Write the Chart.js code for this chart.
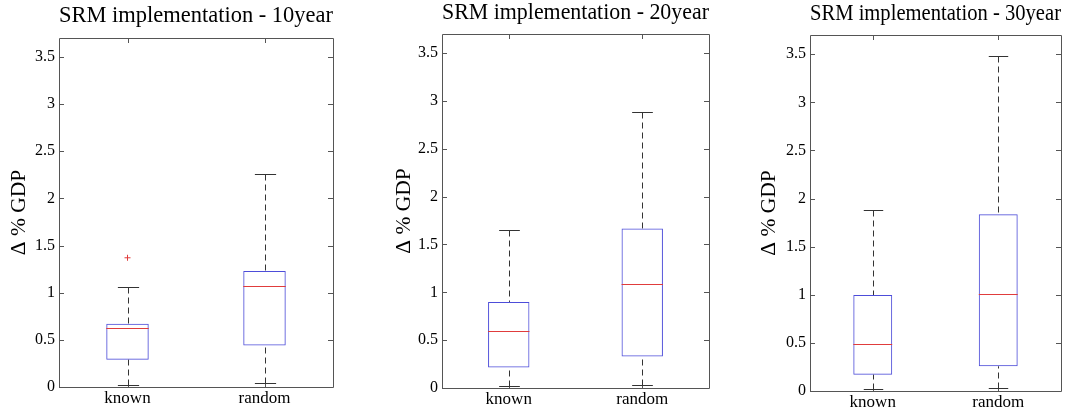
<!DOCTYPE html>
<html>
<head>
<meta charset="utf-8">
<script src="https://cdn.jsdelivr.net/npm/chart.js@4.4.0/dist/chart.umd.min.js"></script>
<style>
  html, body { margin: 0; padding: 0; background: #fff; }
  #wrap { position: relative; width: 1080px; height: 412px; overflow: hidden; }
  .panel { position: absolute; top: 0; width: 360px; height: 412px; }
</style>
</head>
<body>
<div id="wrap">
  <div class="panel" style="left:0px"><canvas id="c0" width="360" height="412"></canvas></div>
  <div class="panel" style="left:360px"><canvas id="c1" width="360" height="412"></canvas></div>
  <div class="panel" style="left:720px"><canvas id="c2" width="360" height="412"></canvas></div>
</div>
<script>
// data (one row per panel: 10, 20, 30 year)
const categories = ['known', 'random'];
const panelTitles = ['SRM implementation - 10year', 'SRM implementation - 20year', 'SRM implementation - 30year'];
const whiskerLow  = [[0.025, 0.04], [0.017, 0.03], [0.017, 0.028]];
const boxQ1       = [[0.29, 0.44], [0.215, 0.33], [0.17, 0.257]];
const medians     = [[0.63, 1.075], [0.595, 1.087], [0.486, 1.007]];
const boxQ3       = [[0.67, 1.23], [0.90, 1.668], [0.997, 1.836]];
const whiskerHigh = [[1.065, 2.26], [1.654, 2.88], [1.878, 3.48]];
const outliers    = [[1.37, null], [null, null], [null, null]];
const yTickValues = [0, 0.5, 1, 1.5, 2, 2.5, 3, 3.5];
const yTickLabels = ['0', '0.5', '1', '1.5', '2', '2.5', '3', '3.5'];

const serif = "'Liberation Serif', 'Times New Roman', serif";
const boxColor = '#4d4dd9';
const medianColor = '#e03c3c';
const whiskerColor = '#333333';
const frameColor = '#555555';

// per-panel placement
const layouts = [
  { axisW: 59, right: 27, titleTop: 2.5, titleBottom: 8.5, xH: 25, yTitlePad: 6 },
  { axisW: 82, right: 11, titleTop: 0,   titleBottom: 7,   xH: 24, yTitlePad: 31 },
  { axisW: 90, right: 19, titleTop: 0.5, titleBottom: 7.5, xH: 21, yTitlePad: 36 },
];

// matlab style box with inward ticks
const frame = {
  id: 'frame',
  afterDatasetsDraw(chart) {
    const { ctx, chartArea: a, scales: { x, y } } = chart;
    ctx.save();
    ctx.strokeStyle = frameColor;
    ctx.lineWidth = 1;
    ctx.beginPath();
    ctx.rect(Math.round(a.left) + 0.5, Math.round(a.top) + 0.5,
             Math.round(a.right - a.left), Math.round(a.bottom - a.top));
    yTickValues.forEach(v => {
      const py = Math.round(y.getPixelForValue(v)) + 0.5;
      ctx.moveTo(a.left, py); ctx.lineTo(a.left + 5, py);
      ctx.moveTo(a.right, py); ctx.lineTo(a.right - 5, py);
    });
    categories.forEach((c, i) => {
      const px = Math.round(x.getPixelForValue(i)) + 0.5;
      ctx.moveTo(px, a.top); ctx.lineTo(px, a.top + 5);
      ctx.moveTo(px, a.bottom); ctx.lineTo(px, a.bottom - 5);
    });
    ctx.stroke();
    ctx.restore();
  }
};

// whiskers, caps and medians
const boxDecor = {
  id: 'boxDecor',
  afterDatasetsDraw(chart, args, opts) {
    const p = opts.panel;
    const { ctx, scales: { x, y } } = chart;
    const bars = chart.getDatasetMeta(0).data;
    ctx.save();
    ctx.lineWidth = 1;
    categories.forEach((c, i) => {
      const cx = Math.round(x.getPixelForValue(i)) + 0.5;
      const half = bars[i].width / 2;
      const yLo = Math.round(y.getPixelForValue(whiskerLow[p][i])) + 0.5;
      const yHi = Math.round(y.getPixelForValue(whiskerHigh[p][i])) + 0.5;
      const y1 = y.getPixelForValue(boxQ1[p][i]);
      const y3 = y.getPixelForValue(boxQ3[p][i]);
      const yMed = Math.round(y.getPixelForValue(medians[p][i])) + 0.5;

      ctx.strokeStyle = whiskerColor;
      ctx.setLineDash([6, 4]);
      ctx.beginPath();
      ctx.moveTo(cx, yHi); ctx.lineTo(cx, y3);
      ctx.moveTo(cx, yLo); ctx.lineTo(cx, y1);
      ctx.stroke();

      ctx.setLineDash([]);
      ctx.beginPath();
      ctx.moveTo(cx - half / 2, yHi); ctx.lineTo(cx + half / 2, yHi);
      ctx.moveTo(cx - half / 2, yLo); ctx.lineTo(cx + half / 2, yLo);
      ctx.stroke();

      ctx.strokeStyle = medianColor;
      ctx.beginPath();
      ctx.moveTo(bars[i].x - half, yMed); ctx.lineTo(bars[i].x + half, yMed);
      ctx.stroke();
    });
    ctx.restore();
  }
};

function makePanel(p) {
  const L = layouts[p];
  return new Chart(document.getElementById('c' + p), {
    plugins: [frame, boxDecor],
    data: {
      labels: categories,
      datasets: [
        {
          type: 'bar',
          data: categories.map((c, i) => [boxQ1[p][i], boxQ3[p][i]]),
          backgroundColor: 'rgba(0,0,0,0)',
          borderColor: boxColor,
          borderWidth: 1,
          borderSkipped: false,
          barPercentage: 0.31,
          categoryPercentage: 1,
        },
        {
          type: 'line',
          data: outliers[p],
          showLine: false,
          pointStyle: 'cross',
          pointRadius: 3,
          pointBorderWidth: 1,
          pointBorderColor: medianColor,
          pointBackgroundColor: medianColor,
        },
      ],
    },
    options: {
      responsive: false,
      animation: false,
      layout: { padding: { left: 0, right: L.right, top: 0, bottom: 0 } },
      plugins: {
        legend: { display: false },
        tooltip: { enabled: false },
        boxDecor: { panel: p },
        title: {
          display: true,
          fullSize: false,
          text: panelTitles[p],
          color: '#000',
          font: { family: serif, size: 22.5, weight: 'normal', lineHeight: 1.2 },
          padding: { top: L.titleTop, bottom: L.titleBottom },
        },
      },
      scales: {
        x: {
          type: 'category',
          offset: true,
          afterFit: s => { s.height = L.xH; },
          grid: { display: false, drawTicks: false },
          border: { display: false },
          ticks: { padding: 1, color: '#000', font: { family: serif, size: 17 } },
        },
        y: {
          min: 0,
          max: 3.7,
          afterBuildTicks: s => { s.ticks = yTickValues.map(v => ({ value: v })); },
          afterFit: s => { s.width = L.axisW; },
          grid: { display: false, drawTicks: false },
          border: { display: false },
          ticks: {
            padding: 4,
            color: '#000',
            font: { family: serif, size: 16 },
            callback: v => yTickLabels[yTickValues.indexOf(v)],
          },
          title: {
            display: true,
            text: 'Δ % GDP',
            color: '#000',
            font: { family: serif, size: 21.5, lineHeight: 1.2 },
            padding: { top: L.yTitlePad, bottom: 0 },
          },
        },
      },
    },
  });
}

[0, 1, 2].forEach(makePanel);
</script>
</body>
</html>
